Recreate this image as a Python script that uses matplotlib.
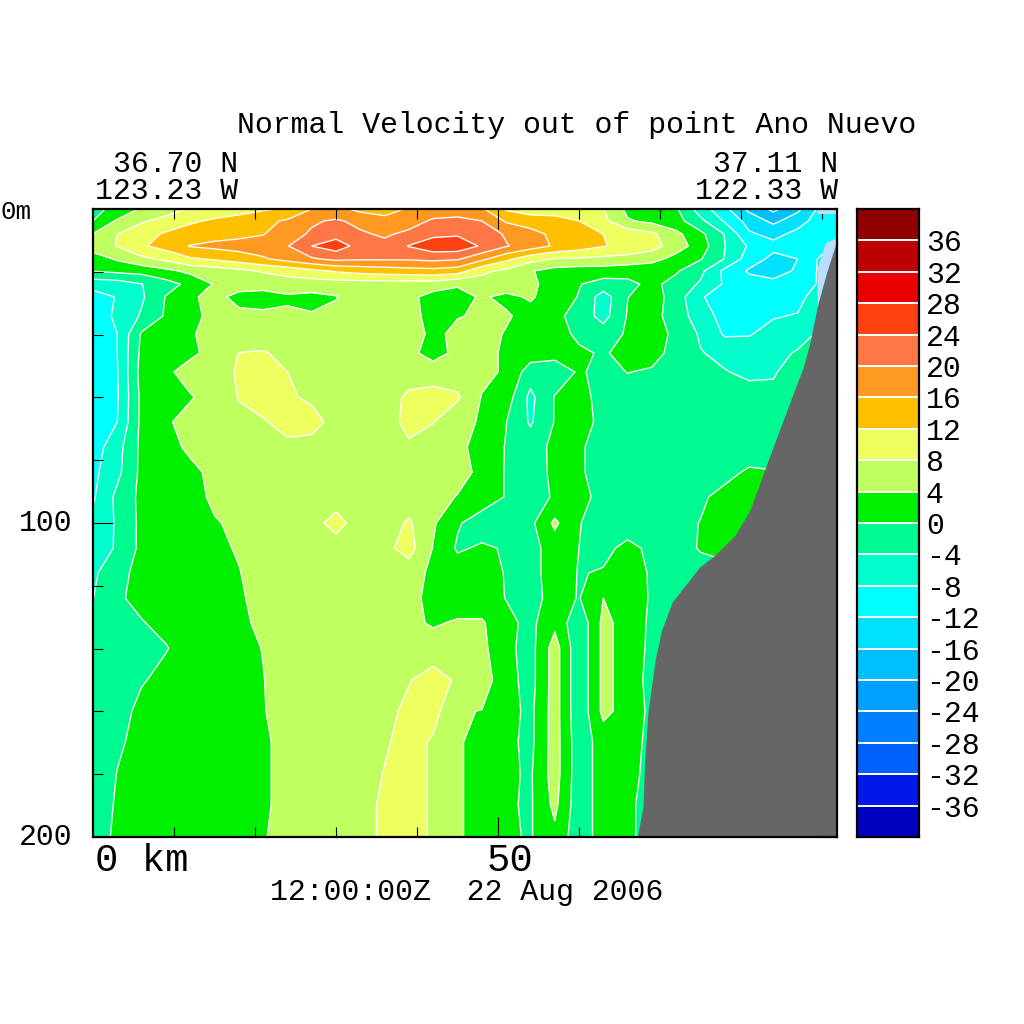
import numpy as np
import matplotlib
matplotlib.use("Agg")
import matplotlib.pyplot as plt
from matplotlib.colors import ListedColormap, BoundaryNorm

plt.rcParams['font.family'] = ['Liberation Mono', 'DejaVu Sans Mono']

title = "Normal Velocity out of point Ano Nuevo"
time_label = "12:00:00Z  22 Aug 2006"

levels = np.arange(-40, 41, 4)
colors = ['#0000BF', '#0018E8', '#0060FF', '#0080FF', '#00A0FF', '#00BFFF', '#00E0FF',
          '#00FFFF', '#00FFCC', '#00FA92', '#00F000', '#BFFF60', '#EEFF60', '#FFC000',
          '#FF9922', '#FF7744', '#FF4010', '#E80000', '#BF0000', '#900000']

km = [0, 3, 6, 9, 12, 15, 18, 21, 24, 27, 30, 33, 36, 39, 42, 45,
      48, 51, 54, 57, 60, 63, 66, 69, 72, 75, 78, 81, 84, 87, 90, 91.85]
depth = [0, 3.8, 8, 11.8, 15.9, 19.7, 23.9, 28, 34.1, 39.8, 45.9, 51.9, 59.9, 67.8, 75.8,
         83.8, 91.7, 100, 108, 115.9, 123.9, 131.8, 139.8, 150, 159.9, 169.7, 179.9, 189.7, 200]

# normal velocity, one row per depth
velocity = [
    [-1, 1, 4.5, 6, 8.5, 10, 10.5, 11.5, 12.5, 16, 17, 15, 14, 16.5, 18, 18, 16.5, 11.5, 10, 10, 9.5, 8.2, 3, 1.5, 0.5, -6, -11, -17, -21, -17, -10.5, -9],
    [0, 4.5, 7.5, 9.5, 11.5, 12.5, 13.5, 15, 16.5, 19.5, 20.5, 19, 17.5, 18.5, 20.5, 21, 20, 15.5, 14, 13.5, 12, 9, 4.4, 3, 1.5, -3, -8.5, -13.5, -17, -13.5, -10, -9],
    [4.2, 8, 10.5, 12.5, 13.5, 14.5, 15, 15.8, 18.5, 20.5, 22.5, 20.5, 19.5, 20.8, 23, 23.5, 22.5, 19.5, 17.5, 15, 13.5, 12, 10.5, 8.8, 5, 1, -4.2, -11.5, -13, -11, -9.5, -9],
    [6, 8.2, 11.5, 13.5, 16.2, 17, 17.5, 18.2, 19.8, 24, 26, 22.5, 21, 24.2, 26.5, 26.5, 23.5, 20.3, 18, 15.5, 14, 12.2, 11, 9.5, 6, 2, -3.9, -8.5, -11, -11.2, -10, -9],
    [2, 4.5, 7, 9, 11.5, 12.5, 14, 15.5, 17.5, 19.5, 21, 20.5, 20.5, 20.5, 21, 20.5, 17, 13, 9.5, 7.8, 7.5, 7, 6.5, 5.5, 2.5, 0.3, -4.2, -10, -13, -12, -7, -7],
    [0.2, 1, 1.5, 3, 5, 6, 7, 8.5, 9.5, 11, 12.5, 13.5, 14, 14.5, 14.8, 14, 9, 7, 4.3, 2.5, 2, 2, 1.5, 1, 0.5, -3, -9, -12.5, -13.5, -11.5, -7, -7],
    [-6.5, -6, -4.1, -1.5, 1, 4.3, 5.5, 5, 6, 6, 6, 6, 6, 6, 6, 4.5, 6, 6.5, 5, 2, 0.2, -1.5, -1, 1, -1.5, -4.5, -8.5, -10.5, -11, -11, -7, -7],
    [-9.5, -7.8, -4.6, 0.2, 3.5, 5, 3, 3, 3.5, 3, 3.8, 6, 6, 5, 2.5, 2.5, 4.5, 3, 4.5, 2, -0.2, -6, -0.1, 2, -2, -7.5, -10.5, -10.5, -10.5, -9, -6, -6],
    [-9.5, -7.5, -3.5, 0.5, 3.5, 4.5, 4.8, 4.5, 4.6, 4.3, 5, 6, 6, 5, 3, 3.8, 4.5, 4.5, 2.5, 1, -1.5, -5.5, 0.3, 1.5, -2, -6, -9.5, -10, -8.2, -7.8, -3, -3],
    [-10, -8, 0.5, 2, 3.7, 5, 5.5, 6, 6, 6, 6, 6, 6, 6, 3, 5, 5.5, 3.7, 3.9, 2, -1, -2, 0.5, 2, -1, -4.5, -8.5, -8.2, -7, -6, -3, -3],
    [-10, -8, 1, 3, 3.5, 4.8, 8.1, 8.3, 7, 6.5, 6.5, 6.5, 6, 5, 2.5, 5, 5, 3.5, 2, 1.5, 0.8, -0.5, 1.5, 1.5, -1.5, -3.8, -5, -6.5, -5.5, -3.5, -2, -2],
    [-10, -8.2, 1.5, 3.5, 5, 6, 8.5, 9.5, 8, 7, 6.5, 6.5, 6.5, 6.5, 6, 6, 5, 3.5, -2, -2.5, 0.5, -1.2, 0.1, -0.5, -0.1, -2, -3.8, -4.8, -4.2, -3, -2, -2],
    [-10, -8.4, 1, 3, 3.8, 5, 8.2, 9, 8.4, 7.5, 7.7, 6, 6.5, 8.6, 9.5, 8.5, 3.8, 2, -5, 0.2, 1.5, -1.5, -1.5, -1.5, -1.5, -1.5, -2, -2.5, -3.5, -1, -1, -1],
    [-10, -8, 1, 3.7, 4.8, 6, 7, 7.8, 8.8, 9, 7, 6, 6.5, 9, 8.1, 5.5, 3.5, 0.1, -4.5, 0.2, 1.5, -1, -1.5, -2, -2, -2, -2, -2, -2, -1, -1, -1],
    [-10, -5.5, 1, 2.5, 4.8, 6, 7, 7, 7.5, 7, 6.5, 6, 7.9, 7.5, 6.5, 5, 2.5, -0.2, -2, 1, 0.5, -1.5, -1.5, -1.5, -2, -2, -2, -2, -2, -1, -1, -1],
    [-9, -5, 1, 2, 3, 5, 6.5, 6.5, 6.5, 6.5, 6.5, 6.5, 6.5, 6.5, 6.5, 5.5, 3, -0.3, -2.2, 1, 0.5, -1.5, -1.5, -1.5, -2, -1.5, -1, 0.5, 0.2, -1, -1, -1],
    [-8.5, -3, 1, 2.5, 3, 4.5, 5.5, 6, 6, 6, 6, 6, 6, 6, 5.5, 3.8, 2, -0.2, -2, 0.5, 1, -1, -1.5, -1.5, -1, -0.5, 1, 1.5, 1, -1, -1, -1],
    [-7, -3.5, 1, 2.5, 3, 3.8, 4.5, 5.5, 6, 6.5, 9.5, 6, 6, 8.5, 4.5, 0.4, -1.8, -0.8, -1, 4.8, 0.1, -1, -2, -1.5, -1, 0.1, 1.5, 1, 1, -1, -1, -1],
    [-6.5, -3.5, 1, 2.5, 3, 3.5, 4.2, 5.5, 6, 6, 6, 6, 7, 9.5, 3.8, -0.5, 0.5, -0.3, -1.5, 2, 0, -1, 1, -0.8, -1, 0.2, 1, 1, 1, -1, -1, -1],
    [-4.8, -1, 1, 2.5, 3, 3.5, 3.9, 5, 6, 6, 6, 6, 6, 6, 3, 2, 1.5, -0.2, -1.5, 2, -0.2, 0.3, 2, -0.5, -1, -1, -1, -1, -1, -1, -1, -1],
    [-4.1, -0.5, 1, 2.5, 3, 3.5, 3.8, 4.5, 6, 6, 6, 6, 6, 5.5, 2.5, 1.5, 1.5, -0.1, -1.5, 1.5, -0.2, 4, 2.5, -0.5, -1, -1, -1, -1, -1, -1, -1, -1],
    [-3.7, -1.5, -0.2, 1, 2.5, 3, 3.5, 4.5, 6, 6, 6, 6, 6, 5, 3.5, 4.5, 4.5, 1, -1, 3, -3, 5, 2.5, -0.8, -1, -1, -1, -1, -1, -1, -1, -1],
    [-3.5, -2, -1, -0.2, 1.5, 2.5, 3, 4.1, 6, 6, 6, 6, 6, 6, 6, 6, 5, 1, -1.5, 5.8, -3, 5, 2.5, -1, -1, -1, -1, -1, -1, -1, -1, -1],
    [-3.5, -2, -0.3, 1, 2, 2.5, 3, 3.9, 5.5, 6, 6, 6, 7, 7.8, 9.5, 7.5, 6, 1.5, -1.5, 5.8, -3, 5, 2.5, -1.5, -1, -1, -1, -1, -1, -1, -1, -1],
    [-3, -1.5, 1, 2, 2.5, 3, 3, 3.8, 5.5, 6, 6, 6, 7, 8.8, 9.5, 4.3, 3.9, 1.5, -1, 5.8, -3, 5, 2.5, -1, -1, -1, -1, -1, -1, -1, -1, -1],
    [-3, -0.5, 1, 2, 2.5, 3, 3, 3.5, 5, 6, 6, 6, 7.5, 9.5, 7.5, 4.1, 3.7, 1, -1, 5.8, -2.5, 2, 1.5, -1, -1, -1, -1, -1, -1, -1, -1, -1],
    [-2.5, 0.1, 1, 2, 2.5, 3, 3, 3.5, 5, 6, 6, 6, 8.2, 9.5, 7.5, 4.5, 2.5, 0.7, -0.5, 5.8, -2.5, 2, 1, -1, -1, -1, -1, -1, -1, -1, -1, -1],
    [-2.5, 0.5, 1, 2, 2.5, 3, 3, 3.5, 5, 6, 6.5, 7, 8.5, 9.5, 7.5, 4.5, 2.5, 0.5, -0.5, 5, -2.5, 2, 0.5, -1, -1, -1, -1, -1, -1, -1, -1, -1],
    [-2.5, 1, 1.5, 2, 2.5, 3, 3, 3.8, 5, 6, 6.5, 7, 8.5, 9.5, 7.5, 4.5, 2.5, 0.5, -0.3, 3, -2.5, 2, 0.5, -1, -1, -1, -1, -1, -1, -1, -1, -1],
]

# sea floor along the section
floor_km = [67.2, 67.9, 68.1, 68.5, 69.4, 70.2, 71.5, 74.9, 76.8, 79.3, 81.1, 83.6, 86.0, 87.7, 88.5, 89.4, 90.6, 91.85]
floor_m = [200, 190.4, 176.4, 160.5, 143.6, 134.1, 125.2, 114, 110.2, 103.8, 95.9, 78.3, 61.8, 50.3, 42.7, 31.2, 20, 9.9]

# pale cells next to the slope and in the top corner
pale_km = [89.4, 90.4, 91.4, 91.85]
pale_m = [18.8, 10.8, 9.5, 9.5]
corner_km = [89.4, 91.85]
corner_m = [1.6, 1.6]


def fx(x):
    return x / 1024


def fy(y):
    return 1 - y / 1024


def label(x, y, s, size=21.5, ha='left'):
    fig.text(fx(x), fy(y), s, fontsize=size, ha=ha, va='baseline', color='black')


fig = plt.figure(figsize=(10.24, 10.24), dpi=100)
ax = fig.add_axes([fx(93), fy(837), 744 / 1024, 628 / 1024])
cax = fig.add_axes([fx(857), fy(837), 62 / 1024, 628 / 1024])

cmap = ListedColormap(colors)
norm = BoundaryNorm(levels, cmap.N)
v = np.array(velocity)

ax.contourf(km, depth, v, levels=levels, cmap=cmap, norm=norm)
ax.contour(km, depth, v, levels=levels, colors='white', linewidths=1, linestyles='solid')

floor_at_pale = np.interp(pale_km, floor_km, floor_m)
ax.fill_between(pale_km, pale_m, floor_at_pale, color='#BBDDFF', lw=0, zorder=3)
ax.fill_between(corner_km, 0, corner_m, color='#BBDDFF', lw=0, zorder=3)
ax.fill_between(floor_km, floor_m, 200, color='#666666', lw=0, zorder=4)

ax.set_xlim(0, 91.85)
ax.set_ylim(200, 0)
ax.set_xticks(np.arange(10, 91, 10), minor=True)
ax.set_xticks([50])
ax.set_xticklabels([''])
ax.set_yticks(np.arange(20, 200, 20), minor=True)
ax.set_yticks([100, 200])
ax.set_yticklabels(['100', '200'], fontsize=21.5, va='center')
ax.tick_params(which='major', direction='in', length=14.4, width=0.8, top=True, right=True, pad=15, zorder=6)
ax.tick_params(which='minor', direction='in', length=7.2, width=0.8, top=True, right=True, zorder=6)
ax.set_axisbelow(False)
for s in ax.spines.values():
    s.set_linewidth(1.6)
    s.set_zorder(7)

# colour bar
cax.pcolormesh([0, 1], levels, np.array(levels[:-1]).reshape(-1, 1) + 2, cmap=cmap, norm=norm)
cax.hlines(levels[1:-1], 0, 1, colors='white', linewidth=1.4)
cax.set_xlim(0, 1)
cax.set_ylim(-40, 40)
cax.set_xticks([])
cax.yaxis.tick_right()
cax.set_yticks(levels[1:-1])
cax.set_yticklabels([str(i) for i in levels[1:-1]], fontsize=21.5, ha='left')
cax.tick_params(axis='y', length=0, pad=5)
for s in cax.spines.values():
    s.set_linewidth(1.6)

label(237, 133, title)
label(113, 172, "36.70 N")
label(95, 199, "123.23 W")
label(713, 172, "37.11 N")
label(695, 199, "122.33 W")
label(0, 219, "0m", size=18.5)
label(95, 871, "0 km", size=28)
label(487, 871, "50", size=28)
label(270, 900, time_label)

fig.savefig("out.png", dpi=100)
